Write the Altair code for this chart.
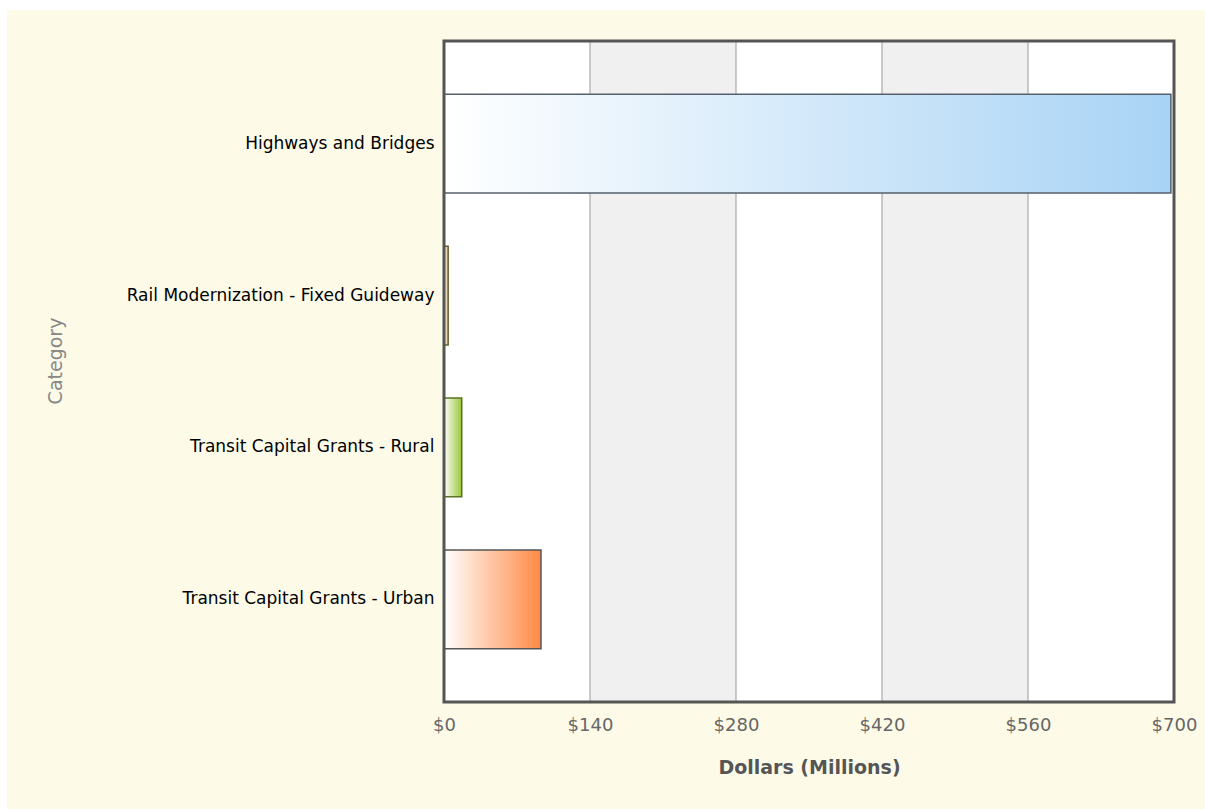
import altair as alt
import pandas as pd

categories = ["Highways and Bridges", "Rail Modernization - Fixed Guideway",
              "Transit Capital Grants - Rural", "Transit Capital Grants - Urban"]
values = [697, 4, 17, 93]
bar_colors = ["#A8D3F5", "#D9BF86", "#9BC63A", "#FF8A45"]
bar_strokes = ["#56606C", "#6E5C30", "#5A7222", "#555555"]
tick_values = [0, 140, 280, 420, 560, 700]
band_starts = [140, 420]
band_ends = [280, 560]

W, H = 730, 661
PAD_L, PAD_T = 444, 41
TOTAL_W, TOTAL_H = 1205, 809

df = pd.DataFrame({"category": categories, "value": values})
bands = pd.DataFrame({"start": band_starts, "end": band_ends})
grid = pd.DataFrame({"v": tick_values[1:-1]})
one = pd.DataFrame({"a": [0]})

xscale = alt.Scale(domain=[0, 700], nice=False, zero=True)
yscale = alt.Scale(paddingInner=0.35, paddingOuter=0.35)

cream = alt.Chart(one).mark_rect(color="#FDFBE8").encode(
    x=alt.value(7 - PAD_L), x2=alt.value(TOTAL_W - PAD_L),
    y=alt.value(10 - PAD_T), y2=alt.value(TOTAL_H - PAD_T))

white = alt.Chart(one).mark_rect(color="white").encode(
    x=alt.value(0), x2=alt.value(W), y=alt.value(0), y2=alt.value(H))

band_layer = alt.Chart(bands).mark_rect(color="#F0F0F0").encode(
    x=alt.X("start:Q", scale=xscale), x2="end:Q",
    y=alt.value(0), y2=alt.value(H))

grid_layer = alt.Chart(grid).mark_rule(color="#999999", strokeWidth=1).encode(
    x=alt.X("v:Q", scale=xscale), y=alt.value(0), y2=alt.value(H))

bar_layers = []
for i, cat in enumerate(categories):
    grad = alt.Gradient(
        gradient="linear",
        stops=[alt.GradientStop(color="#FFFFFF", offset=0),
               alt.GradientStop(color=bar_colors[i], offset=1)],
        x1=0, x2=1, y1=0, y2=0)
    bar_layers.append(
        alt.Chart(df).transform_filter(alt.datum.category == cat)
        .mark_bar(color=grad, stroke=bar_strokes[i], strokeWidth=1.5)
        .encode(
            x=alt.X("value:Q", scale=xscale,
                    axis=alt.Axis(values=tick_values, labelExpr="'$' + datum.value",
                                  title="Dollars (Millions)", grid=False, domain=False,
                                  ticks=False, labelFont="DejaVu Sans", labelFontSize=18,
                                  labelColor="#666666", labelBaseline="middle",
                                  labelFlush=False, labelOverlap=False,
                                  labelPadding=23, titleFont="DejaVu Sans",
                                  titleFontSize=19, titleFontWeight="bold",
                                  titleColor="#555555", titleY=65,
                                  titleBaseline="middle", zindex=1)),
            y=alt.Y("category:N", sort=categories, scale=yscale,
                    axis=alt.Axis(title="Category", grid=False, domain=False, ticks=False,
                                  labelFont="DejaVu Sans", labelFontSize=17,
                                  labelColor="#000000", labelPadding=10, labelLimit=420,
                                  titleFont="DejaVu Sans", titleFontSize=19,
                                  titleFontWeight="normal", titleColor="#888888",
                                  titleAngle=270, titleX=55 - PAD_L, titleY=H / 2 - 11,
                                  titleAlign="center", titleBaseline="middle", zindex=1)),
        )
    )

frame = alt.Chart(one).mark_rect(fill=None, stroke="#555555", strokeWidth=3).encode(
    x=alt.value(0), x2=alt.value(W), y=alt.value(0), y2=alt.value(H))

chart = alt.layer(cream, white, band_layer, grid_layer, *bar_layers, frame).properties(
    width=W, height=H,
    autosize=alt.AutoSizeParams(type="none"),
    padding={"left": PAD_L, "top": PAD_T, "right": TOTAL_W - PAD_L - W,
             "bottom": TOTAL_H - PAD_T - H},
    background="white",
).configure_view(stroke=None, fill=None)

chart.save("out.html", embed_options={"renderer": "svg", "actions": False})
